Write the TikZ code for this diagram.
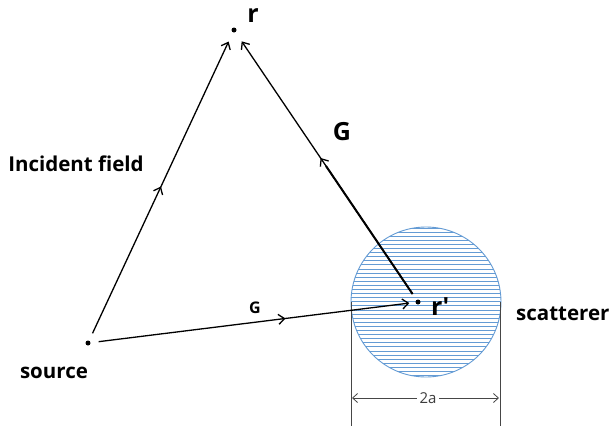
\documentclass[tikz,border=0pt]{standalone}
\usepackage{fontspec}
\setmainfont{Open Sans}
\usetikzlibrary{arrows.meta,decorations.markings,calc}
\begin{document}
\begin{tikzpicture}[x=1pt,y=-1pt,
  dotc/.style={circle,fill=black,inner sep=0pt,minimum size=5pt},
  lbl/.style={font=\bfseries\fontsize{20.5}{24}\selectfont,inner sep=0pt},
  big/.style={font=\bfseries\fontsize{25}{28}\selectfont,inner sep=0pt},
  small/.style={font=\bfseries\fontsize{16}{19}\selectfont,inner sep=0pt},
  tip/.tip={Straight Barb[length=6pt,width=10pt]},
  ray/.style={line width=1.3pt,-tip},
  midarrow/.style={postaction={decorate},decoration={markings,mark=at position #1 with {\arrow{tip}}}},
  hatch/.style={draw={rgb,255:red,100;green,155;blue,212},line width=1pt},
  dimline/.style={draw={rgb,255:red,70;green,70;blue,70},line width=0.8pt},
]
\useasboundingbox (0,0) rectangle (611,426);

% scatterer
\begin{scope}
  \clip (426,302) circle (75);
  \foreach \y in {228,232.1,...,380} \draw[hatch] (348,\y) -- (504,\y);
\end{scope}
\node[circle,draw={rgb,255:red,100;green,155;blue,212},line width=0.9pt,minimum size=150pt,inner sep=0pt] (scat) at (426,302) {};

% dimension
\coordinate (dl0) at (351,302);
\coordinate (dl1) at (351,426);
\coordinate (dr0) at (500,302);
\coordinate (dr1) at (500,426);
\draw[dimline] (dl0) -- (dl1);
\draw[dimline] (dr0) -- (dr1);
\coordinate (al) at (352,398);
\coordinate (ar) at (499,398);
\draw[dimline,{Straight Barb[length=5pt,width=9pt]}-{Straight Barb[length=5pt,width=9pt]}] (al) -- (ar);
\node[fill=white,inner sep=3pt,font=\fontsize{15}{17}\selectfont,text={rgb,255:red,60;green,60;blue,60}] (dim) at (428,398) {2a};

% points
\node[dotc] (src) at (88,343) {};
\node[dotc] (r) at (234,30) {};
\node[dotc] (rp) at (418,302) {};

% rays
\draw[ray,midarrow=0.5,shorten <=8pt,shorten >=10pt] (src) -- (r);
\draw[ray,midarrow=0.53,shorten <=7pt,shorten >=11pt] (rp) -- (r);
\draw[line width=2pt,shorten <=7pt] (rp) -- ($(rp)!0.5!(r)$);
\draw[ray,midarrow=0.6,shorten <=8pt,shorten >=6pt] (src) -- (rp);

% labels
\node[big,anchor=base] (rl) at (253,22) {r};
\node[big,anchor=base] (gl) at (342,140) {G};
\node[lbl,anchor=base] (inc) at (76,171) {Incident field};
\node[small,anchor=base] (g2) at (255,313) {G};
\node[lbl,anchor=base] (srcl) at (54,378) {source};
\node[lbl,anchor=base west] (scl) at (516,320) {scatterer};
\node[big,anchor=base west] (rpl) at (431,315) {r\char"2032};
\end{tikzpicture}
\end{document}
